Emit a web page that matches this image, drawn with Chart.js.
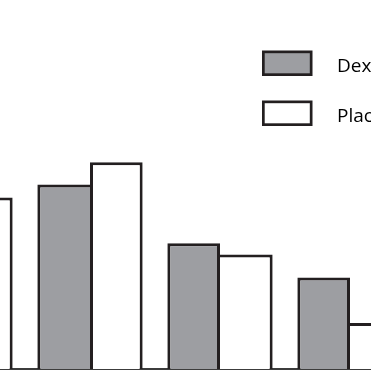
<!DOCTYPE html>
<html>
<head>
<meta charset="utf-8">
<script src="https://cdn.jsdelivr.net/npm/chart.js@4.4.1/dist/chart.umd.min.js"></script>
<style>
  html, body { margin: 0; padding: 0; background: #fff; overflow: hidden; }
  #wrap { position: absolute; left: -105px; top: 0; width: 520px; height: 371px; }
</style>
</head>
<body>
<div id="wrap"><canvas id="myChart"></canvas></div>
<script>
// values (first group is mostly cut off at the left edge)
const categories = ["1", "2", "3", "4"];
const seriesNames = ["Dexmedetomidine", "Placebo"];
const dexValues = [44, 50, 34.1, 24.8];
const placeboValues = [46.5, 56, 31, 12.5];

const edge = "#231f20";
const bw = 3;

// draw the shared divider only once, on whichever bar is taller
const dexBorders = dexValues.map((v, i) => ({
  top: bw, left: bw, bottom: 0,
  right: v > placeboValues[i] ? bw : 0
}));
const placeboBorders = placeboValues.map((v, i) => ({
  top: bw, right: bw, bottom: 0,
  left: dexValues[i] > v ? 0 : bw
}));

// simple boxed legend, top right of the plot
const boxLegend = {
  id: "boxLegend",
  afterDraw(chart) {
    const { ctx, chartArea } = chart;
    ctx.save();
    chart.data.datasets.forEach((ds, i) => {
      const x = chartArea.right - 153;
      const y = 50.5 + i * 50;
      ctx.fillStyle = edge;
      ctx.fillRect(x, y, 50.5, 25.5);
      ctx.fillStyle = ds.backgroundColor;
      ctx.fillRect(x + 2.7, y + 2.7, 45.1, 20.1);
      ctx.fillStyle = "#000";
      ctx.font = "19px 'Open Sans'";
      ctx.textBaseline = "alphabetic";
      ctx.fillText(ds.label, x + 75, y + 21.3);
    });
    ctx.restore();
  }
};

const ctx = document.getElementById("myChart");

new Chart(ctx, {
  type: "bar",
  data: {
    labels: categories,
    datasets: [
      {
        label: seriesNames[0],
        data: dexValues,
        backgroundColor: "#9d9ea2",
        borderColor: edge,
        borderWidth: dexBorders,
        borderSkipped: false,
      },
      {
        label: seriesNames[1],
        data: placeboValues,
        backgroundColor: "#ffffff",
        borderColor: edge,
        borderWidth: placeboBorders,
        borderSkipped: false,
      }
    ],
  },
  options: {
    responsive: true,
    maintainAspectRatio: false,
    animation: false,
    categoryPercentage: 0.81,
    barPercentage: 1.0,
    layout: { padding: { bottom: 2 } },
    plugins: {
      legend: { display: false },
      tooltip: { enabled: false }
    },
    scales: {
      x: {
        grid: { display: false, drawTicks: false },
        ticks: { display: false },
        border: { display: true, color: "#3c3c3c", width: 2 }
      },
      y: {
        display: false,
        min: 0,
        max: 100
      },
    },
  },
  plugins: [boxLegend]
});
</script>
</body>
</html>
